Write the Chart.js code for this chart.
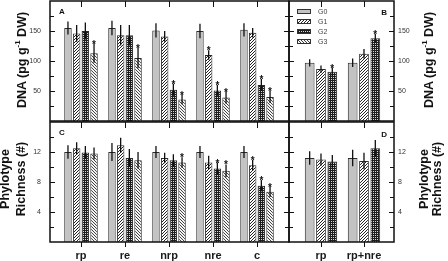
<!DOCTYPE html>
<html>
<head>
<meta charset="utf-8">
<script src="https://cdn.jsdelivr.net/npm/chart.js@4.4.1/dist/chart.umd.min.js"></script>
<style>
  body { margin: 0; background: #fff; }
  #wrap { position: relative; width: 448px; height: 261px; overflow: hidden; font-family: "Liberation Sans", Arial, sans-serif; }
  canvas { position: absolute; left: 0; top: 0; }
  .ytitle { position: absolute; transform: translate(-50%, -50%) rotate(-90deg); white-space: nowrap;
            font-weight: bold; font-size: 12.5px; color: #111; text-align: center; }
  .ytitle sup { font-size: 8px; }
</style>
</head>
<body>
<div id="wrap">
  <canvas id="chartA" width="448" height="261"></canvas>
  <canvas id="chartB" width="448" height="261"></canvas>
  <canvas id="chartC" width="448" height="261"></canvas>
  <canvas id="chartD" width="448" height="261"></canvas>
  <div class="ytitle" style="left:21px; top:60px;">DNA (pg g<sup>-1</sup> DW)</div>
  <div class="ytitle" style="left:428px; top:60px;">DNA (pg g<sup>-1</sup> DW)</div>
  <div class="ytitle" style="left:13px; top:179px; line-height:15.5px;">Phylotype<br>Richness (#)</div>
  <div class="ytitle" style="left:430.5px; top:179px; line-height:13px;">Phylotype<br>Richness (#)</div>
</div>
<script>
const categoriesMain = ['rp', 're', 'nrp', 'nre', 'c'];
const categoriesSide = ['rp', 'rp+nre'];
const seriesNames = ['G0', 'G1', 'G2', 'G3'];

// panel A: DNA (pg/g DW)
const dnaG0 = [155, 155, 151, 150, 152];
const dnaG1 = [146, 143, 141, 110, 147];
const dnaG2 = [150, 143, 52, 51, 60];
const dnaG3 = [113, 105, 36, 39, 40];
const dnaErrG0 = [11, 12, 12, 12, 11];
const dnaErrG1 = [14, 17, 9, 8, 8];
const dnaErrG2 = [14, 17, 10, 9, 10];
const dnaErrG3 = [16, 17, 8, 10, 10];
const dnaSigG0 = [0, 0, 0, 0, 0];
const dnaSigG1 = [0, 0, 0, 1, 0];
const dnaSigG2 = [0, 0, 1, 1, 1];
const dnaSigG3 = [1, 1, 1, 1, 1];

// panel B: DNA, combined treatments
const dnaSideG0 = [97, 97];
const dnaSideG1 = [86.5, 112];
const dnaSideG2 = [82, 138];
const dnaSideErrG0 = [6, 7];
const dnaSideErrG1 = [6, 8];
const dnaSideErrG2 = [7, 7];
const dnaSideSigG0 = [0, 0];
const dnaSideSigG1 = [0, 0];
const dnaSideSigG2 = [1, 1];

// panel C: phylotype richness
const richG0 = [12.0, 12.0, 12.0, 12.0, 12.0];
const richG1 = [12.5, 12.9, 11.2, 10.6, 10.25];
const richG2 = [11.95, 11.2, 10.9, 9.8, 7.5];
const richG3 = [11.8, 10.9, 10.6, 9.5, 6.7];
const richErrG0 = [0.9, 1.2, 0.8, 0.8, 0.8];
const richErrG1 = [0.8, 1.0, 0.7, 0.9, 0.7];
const richErrG2 = [0.85, 1.2, 0.8, 0.8, 0.75];
const richErrG3 = [0.8, 1.1, 0.7, 0.85, 0.7];
const richSigG0 = [0, 0, 0, 0, 0];
const richSigG1 = [0, 0, 0, 0, 1];
const richSigG2 = [0, 0, 0, 1, 1];
const richSigG3 = [0, 0, 1, 1, 1];

// panel D: richness, combined treatments
const richSideG0 = [11.2, 11.2];
const richSideG1 = [11.0, 10.8];
const richSideG2 = [10.75, 12.5];
const richSideErrG0 = [0.9, 1.1];
const richSideErrG1 = [0.8, 1.1];
const richSideErrG2 = [0.85, 1.1];
const richSideSig = [0, 0];

const FONT = '"Liberation Sans", Arial, sans-serif';

function makePattern(kind) {
  const c = document.createElement('canvas');
  const n = kind === 'check' ? 4 : 3;
  c.width = n; c.height = n;
  const g = c.getContext('2d');
  if (kind === 'slash') {
    g.fillStyle = '#fff'; g.fillRect(0, 0, n, n);
    g.fillStyle = '#222';
    for (let i = 0; i < n; i++) g.fillRect(i, n - 1 - i, 1, 1);
  } else if (kind === 'back') {
    g.fillStyle = '#f4f4f4'; g.fillRect(0, 0, n, n);
    g.fillStyle = '#444';
    for (let i = 0; i < n; i++) g.fillRect(i, i, 1, 1);
  } else {
    g.fillStyle = '#1e1e1e'; g.fillRect(0, 0, n, n);
    g.fillStyle = '#d8d8d8';
    g.fillRect(1, 1, 1, 1); g.fillRect(3, 3, 1, 1);
    g.fillRect(1, 3, 1, 1); g.fillRect(3, 1, 1, 1);
  }
  return g.createPattern(c, 'repeat');
}

const fills = ['#c3c3c3', makePattern('slash'), makePattern('check'), makePattern('back')];

function makeDatasets(values, errors, sig) {
  return values.map((v, s) => ({
    label: seriesNames[s],
    data: v.map((y, i) => ({ x: i + 1, y: y })),
    errors: errors[s],
    sig: sig[s],
    backgroundColor: fills[s],
    borderColor: '#2b2b2b',
    borderWidth: 1,
    categoryPercentage: 0.79,
    barPercentage: 0.86
  }));
}

function line(ctx, x1, y1, x2, y2) {
  ctx.beginPath(); ctx.moveTo(x1, y1); ctx.lineTo(x2, y2); ctx.stroke();
}

// error bars, stars, frame, inward ticks, panel letter, legend
const decor = {
  id: 'decor',
  afterDatasetsDraw(chart) {
    const ctx = chart.ctx, y = chart.scales.y;
    ctx.save();
    ctx.strokeStyle = '#111';
    ctx.fillStyle = '#111';
    ctx.lineWidth = 1.3;
    ctx.font = 'bold 10px ' + FONT;
    ctx.textAlign = 'center';
    ctx.textBaseline = 'alphabetic';
    chart.data.datasets.forEach((ds, d) => {
      chart.getDatasetMeta(d).data.forEach((bar, i) => {
        const v = ds.data[i].y, e = ds.errors[i];
        const top = y.getPixelForValue(v + e);
        line(ctx, bar.x, top, bar.x, y.getPixelForValue(v - e));
        if (ds.sig[i]) ctx.fillText('*', bar.x, top + 4);
      });
    });
    ctx.restore();
  },
  afterDraw(chart, args, opts) {
    const { left, right, top, bottom } = chart.chartArea;
    const ctx = chart.ctx, x = chart.scales.x, y = chart.scales.y;
    ctx.save();
    ctx.strokeStyle = '#111';
    ctx.lineWidth = 1;
    for (let v = y.min + opts.minorStep; v < y.max - 1e-6; v += opts.minorStep) {
      const py = Math.round(y.getPixelForValue(v)) + 0.5;
      const r = v / opts.majorStep;
      const len = Math.abs(r - Math.round(r)) < 1e-6 ? 5 : 4;
      line(ctx, left, py, left + len, py);
      line(ctx, right - len, py, right, py);
    }
    x.ticks.forEach(t => {
      const px = Math.round(x.getPixelForValue(t.value)) + 0.5;
      line(ctx, px, top, px, top + 6);
      if (opts.bottomTicks) line(ctx, px, bottom, px, bottom + 5);
    });
    ctx.lineWidth = 1.5;
    ctx.strokeRect(left, top, right - left, bottom - top);

    ctx.fillStyle = '#111';
    ctx.font = 'bold 8px ' + FONT;
    ctx.textBaseline = 'alphabetic';
    ctx.textAlign = opts.letterAlign;
    ctx.fillText(opts.letter, opts.letterAlign === 'left' ? left + 9 : right - 7, top + opts.letterDy);

    if (opts.legend) {
      seriesNames.forEach((name, s) => {
        const bx = left + 8, by = top + 8 + s * 10;
        ctx.fillStyle = fills[s];
        ctx.fillRect(bx, by, 14, 5);
        ctx.lineWidth = 1;
        ctx.strokeStyle = '#333';
        ctx.strokeRect(bx + 0.5, by + 0.5, 13, 4);
        ctx.fillStyle = '#444';
        ctx.font = '7px ' + FONT;
        ctx.textAlign = 'left';
        ctx.textBaseline = 'middle';
        ctx.fillText(name, bx + 21, by + 3);
      });
    }
    ctx.restore();
  }
};

function makeChart(id, cfg) {
  return new Chart(document.getElementById(id), {
    type: 'bar',
    data: { datasets: makeDatasets(cfg.values, cfg.errors, cfg.sig) },
    plugins: [decor],
    options: {
      responsive: false,
      animation: false,
      devicePixelRatio: 1,
      layout: { padding: cfg.padding },
      plugins: { legend: { display: false }, tooltip: { enabled: false }, decor: cfg.decor },
      scales: {
        x: {
          type: 'linear', min: cfg.xMin, max: cfg.xMax, display: cfg.showX, offset: false,
          grid: { display: false, drawTicks: false, offset: false }, border: { display: false },
          afterBuildTicks: s => { s.ticks = cfg.labels.map((l, i) => ({ value: i + 1 })); },
          afterFit: s => { if (cfg.showX) s.height = 19; s.paddingLeft = 0; s.paddingRight = 0; },
          ticks: {
            padding: 7, autoSkip: false, maxRotation: 0, color: '#1a1a1a',
            font: { family: FONT, size: 11, weight: 'bold' },
            callback: v => cfg.labels[v - 1]
          }
        },
        y: {
          position: cfg.yPos, min: 0, max: cfg.yMax,
          grid: { display: false, drawTicks: false }, border: { display: false },
          afterFit: s => { s.width = 40; s.paddingTop = 0; s.paddingBottom = 0; },
          ticks: {
            stepSize: cfg.yStep, padding: cfg.yPad, color: '#333',
            font: { family: FONT, size: 7 },
            callback: v => (v > 0 && v < cfg.yMax) ? v : ''
          }
        }
      }
    }
  });
}

makeChart('chartA', {
  values: [dnaG0, dnaG1, dnaG2, dnaG3],
  errors: [dnaErrG0, dnaErrG1, dnaErrG2, dnaErrG3],
  sig: [dnaSigG0, dnaSigG1, dnaSigG2, dnaSigG3],
  labels: categoriesMain, xMin: 0.2955, xMax: 5.727, showX: false,
  yPos: 'left', yMax: 200, yStep: 50, yPad: 9,
  padding: { left: 10, right: 159, top: 1, bottom: 140 },
  decor: { minorStep: 25, majorStep: 50, letter: 'A', letterAlign: 'left', letterDy: 13 }
});

makeChart('chartB', {
  values: [dnaSideG0, dnaSideG1, dnaSideG2],
  errors: [dnaSideErrG0, dnaSideErrG1, dnaSideErrG2],
  sig: [dnaSideSigG0, dnaSideSigG1, dnaSideSigG2],
  labels: categoriesSide, xMin: 0.256, xMax: 2.698, showX: false,
  yPos: 'right', yMax: 200, yStep: 50, yPad: 4,
  padding: { left: 289, right: 14, top: 1, bottom: 140 },
  decor: { minorStep: 25, majorStep: 50, letter: 'B', letterAlign: 'right', letterDy: 14, legend: true }
});

makeChart('chartC', {
  values: [richG0, richG1, richG2, richG3],
  errors: [richErrG0, richErrG1, richErrG2, richErrG3],
  sig: [richSigG0, richSigG1, richSigG2, richSigG3],
  labels: categoriesMain, xMin: 0.2955, xMax: 5.727, showX: true,
  yPos: 'left', yMax: 16, yStep: 4, yPad: 9,
  padding: { left: 10, right: 159, top: 122, bottom: 0 },
  decor: { minorStep: 2, majorStep: 4, letter: 'C', letterAlign: 'left', letterDy: 13, bottomTicks: true }
});

makeChart('chartD', {
  values: [richSideG0, richSideG1, richSideG2],
  errors: [richSideErrG0, richSideErrG1, richSideErrG2],
  sig: [richSideSig, richSideSig, richSideSig],
  labels: categoriesSide, xMin: 0.256, xMax: 2.698, showX: true,
  yPos: 'right', yMax: 16, yStep: 4, yPad: 4,
  padding: { left: 289, right: 14, top: 122, bottom: 0 },
  decor: { minorStep: 2, majorStep: 4, letter: 'D', letterAlign: 'right', letterDy: 15, bottomTicks: true }
});
</script>
</body>
</html>
